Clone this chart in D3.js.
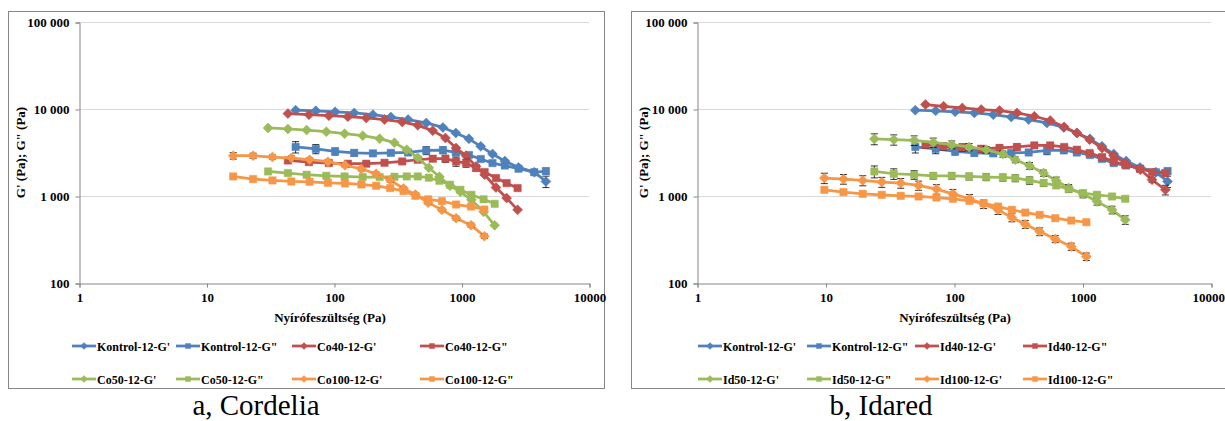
<!DOCTYPE html>
<html>
<head>
<meta charset="utf-8">
<script src="https://cdn.jsdelivr.net/npm/d3@7.9.0/dist/d3.min.js"></script>
<style>
  body { margin: 0; background: #fff; }
  svg text { font-family: "Liberation Serif", "Times New Roman", serif; }
</style>
</head>
<body>
<svg id="chart" width="1225" height="421"></svg>
<script>
// axis ticks (shared by both panels)
const xTicks = [1, 10, 100, 1000, 10000];
const yTicks = [100, 1000, 10000, 100000];

// Kontrol sample, same curve on both panels
const kontrolX  = [50, 72, 102, 144, 202, 279, 381, 529, 715, 902, 1143, 1416, 1750, 2188, 2800, 3724, 4592];
const kontrolG1 = [9700, 9530, 9290, 9020, 8610, 8070, 7550, 6920, 6140, 5300, 4540, 3720, 3040, 2520, 2130, 1880, 1470];
const kontrolG2 = [3670, 3480, 3255, 3130, 3090, 3130, 3165, 3335, 3365, 3165, 2960, 2660, 2390, 2240, 2060, 1875, 1935];
const kontrolG1Err = [250, 250, 200, 200, 200, 200, 150, 150, 150, 120, 100, 100, 80, 80, 80, 100, 220];
const kontrolG2Err = [550, 420, 300, 250, 200, 200, 250, 350, 300, 250, 200, 150, 120, 100, 100, 120, 150];

// a, Cordelia
const co40X  = [43.5, 63.6, 91.2, 128.5, 179, 249, 343, 454, 595, 748, 906, 1086, 1300, 1518, 1864, 2258, 2754];
const co40G1 = [8850, 8610, 8390, 8170, 7890, 7550, 7100, 6490, 5640, 4640, 3560, 2905, 2190, 1755, 1253, 946, 693];
const co40G2 = [2560, 2450, 2390, 2350, 2350, 2410, 2495, 2610, 2685, 2685, 2495, 2390, 2095, 1885, 1607, 1408, 1234];
const co40G2Err = [150, 150, 120, 120, 120, 120, 120, 150, 200, 250, 300, 250, 150, 120, 80, 60, 50];

const co50X  = [30.4, 43.5, 61, 87, 121, 168, 228, 298, 372, 454, 554, 671, 814, 980, 1196, 1490, 1820];
const co50G1 = [6050, 5900, 5720, 5490, 5210, 4940, 4560, 4100, 3410, 2760, 2110, 1665, 1310, 1117, 904, 658, 460];
const co50G2 = [1915, 1835, 1755, 1708, 1678, 1652, 1652, 1665, 1678, 1678, 1622, 1497, 1346, 1178, 1032, 916, 813];

const co100X  = [16.2, 23.2, 32.9, 46.3, 64.4, 89.6, 122, 164, 214, 276, 351, 435, 548, 702, 907, 1188, 1511];
const co100G1 = [2905, 2905, 2805, 2733, 2612, 2478, 2258, 2047, 1802, 1525, 1220, 1040, 839, 693, 556, 462, 345];
const co100G2 = [1678, 1567, 1510, 1469, 1458, 1419, 1393, 1357, 1311, 1234, 1138, 1005, 916, 873, 798, 757, 699];
const co100G1Err = [250, 200, 150, 150, 120, 120, 100, 100, 80, 80, 60, 50, 40, 30, 30, 25, 20];

// b, Idared
const id40X  = [60, 83, 116, 163, 226, 309, 422, 561, 721, 906, 1135, 1419, 1746, 2153, 2818, 3478, 4416];
const id40G1 = [11250, 10750, 10300, 9840, 9590, 9020, 8250, 7360, 6220, 5310, 4440, 3560, 2905, 2393, 2005, 1537, 1178];
const id40G2 = [3890, 3720, 3620, 3497, 3565, 3660, 3815, 3815, 3660, 3405, 3120, 2805, 2495, 2285, 2055, 1885, 1835];
const id40G1Err = [400, 350, 300, 300, 250, 250, 200, 200, 150, 150, 120, 100, 100, 80, 80, 100, 150];
const id40G2Err = [350, 350, 350, 300, 300, 300, 300, 300, 250, 250, 200, 200, 150, 150, 120, 100, 120];

const id50X  = [24, 34, 49, 69, 96, 131, 178, 240, 300, 387, 498, 625, 780, 1009, 1297, 1698, 2153];
const id50G1 = [4530, 4440, 4360, 4130, 3890, 3660, 3410, 3040, 2612, 2228, 1835, 1497, 1234, 1052, 865, 693, 532];
const id50G2 = [1915, 1802, 1755, 1708, 1708, 1678, 1652, 1634, 1607, 1510, 1408, 1322, 1200, 1079, 1032, 987, 929];
const id50G1Err = [650, 600, 550, 500, 400, 350, 300, 250, 200, 200, 150, 150, 120, 100, 80, 70, 60];
const id50G2Err = [300, 250, 200, 150, 150, 150, 150, 150, 150, 150, 120, 100, 100, 80, 70, 60, 50];

const id100X  = [9.8, 13.8, 19.5, 27.4, 38.5, 53, 73, 98, 132, 170, 220, 282, 359, 464, 614, 818, 1072];
const id100G1 = [1607, 1567, 1510, 1447, 1408, 1322, 1200, 1059, 929, 807, 693, 565, 474, 390, 321, 262, 201];
const id100G2 = [1178, 1109, 1059, 1032, 1005, 987, 961, 929, 881, 829, 757, 693, 645, 607, 556, 522, 500];
const id100G1Err = [220, 200, 200, 190, 180, 160, 150, 130, 110, 90, 80, 60, 50, 40, 30, 25, 20];

const colors = { blue: '#4f81bd', red: '#c0504d', green: '#9bbb59', orange: '#f79646' };

const cordeliaSeries = [
    { name: "Kontrol-12-G'",  x: kontrolX, y: kontrolG1, err: kontrolG1Err, color: colors.blue, shape: 'diamond' },
    { name: 'Kontrol-12-G"',  x: kontrolX, y: kontrolG2, err: kontrolG2Err, color: colors.blue, shape: 'square' },
    { name: "Co40-12-G'",     x: co40X, y: co40G1, color: colors.red, shape: 'diamond' },
    { name: 'Co40-12-G"',     x: co40X, y: co40G2, err: co40G2Err, color: colors.red, shape: 'square' },
    { name: "Co50-12-G'",     x: co50X, y: co50G1, color: colors.green, shape: 'diamond' },
    { name: 'Co50-12-G"',     x: co50X, y: co50G2, color: colors.green, shape: 'square' },
    { name: "Co100-12-G'",    x: co100X, y: co100G1, err: co100G1Err, color: colors.orange, shape: 'diamond' },
    { name: 'Co100-12-G"',    x: co100X, y: co100G2, color: colors.orange, shape: 'square' }
];

const idaredSeries = [
    { name: "Kontrol-12-G'",  x: kontrolX, y: kontrolG1, err: kontrolG1Err, color: colors.blue, shape: 'diamond' },
    { name: 'Kontrol-12-G"',  x: kontrolX, y: kontrolG2, err: kontrolG2Err, color: colors.blue, shape: 'square' },
    { name: "Id40-12-G'",     x: id40X, y: id40G1, err: id40G1Err, color: colors.red, shape: 'diamond' },
    { name: 'Id40-12-G"',     x: id40X, y: id40G2, err: id40G2Err, color: colors.red, shape: 'square' },
    { name: "Id50-12-G'",     x: id50X, y: id50G1, err: id50G1Err, color: colors.green, shape: 'diamond' },
    { name: 'Id50-12-G"',     x: id50X, y: id50G2, err: id50G2Err, color: colors.green, shape: 'square' },
    { name: "Id100-12-G'",    x: id100X, y: id100G1, err: id100G1Err, color: colors.orange, shape: 'diamond' },
    { name: 'Id100-12-G"',    x: id100X, y: id100G2, color: colors.orange, shape: 'square' }
];

const svg = d3.select('#chart');
const svgWidth = 1225;

const squarePath = d3.symbol().type(d3.symbolSquare).size(54)();
const diamondPath = d3.symbol().type(d3.symbolSquare).size(50)();

function drawMarker(g, shape, color, cx, cy, scale = 1) {
    g.append('path')
        .attr('d', shape === 'square' ? squarePath : diamondPath)
        .attr('transform', `translate(${cx},${cy}) ${shape === 'diamond' ? 'rotate(45)' : ''} scale(${scale})`)
        .attr('fill', color)
        .attr('stroke', color)
        .attr('stroke-width', 0.5);
}

function drawPanel(cfg) {
    const g = svg.append('g');

    // outer frame of the chart object
    g.append('rect')
        .attr('x', cfg.frame.x + 0.5).attr('y', cfg.frame.y + 0.5)
        .attr('width', cfg.frame.w).attr('height', cfg.frame.h)
        .attr('fill', '#fff').attr('stroke', '#868686').attr('stroke-width', 1);

    const x = d3.scaleLog().domain([1, 10000]).range([cfg.left, cfg.right]);
    const y = d3.scaleLog().domain([100, 100000]).range([cfg.bottom, cfg.top]);

    // gridlines
    g.append('g').selectAll('line')
        .data(yTicks.slice(1))
        .join('line')
        .attr('x1', cfg.left).attr('x2', cfg.right)
        .attr('y1', d => Math.round(y(d)) + 0.5).attr('y2', d => Math.round(y(d)) + 0.5)
        .attr('stroke', '#d9d9d9').attr('stroke-width', 1);

    const yAxis = g.append('g')
        .attr('transform', `translate(${cfg.left + 0.5},0.5)`)
        .call(d3.axisLeft(y).tickValues(yTicks).tickSize(4).tickPadding(6)
            .tickFormat(d => d3.format(',')(d).replace(/,/g, ' ')));

    const xAxis = g.append('g')
        .attr('transform', `translate(0.5,${cfg.bottom + 0.5})`)
        .call(d3.axisBottom(x).tickValues(xTicks).tickSize(4).tickPadding(5)
            .tickFormat(d3.format('d')));

    [xAxis, yAxis].forEach(ax => {
        ax.select('.domain').attr('stroke', '#868686');
        ax.selectAll('.tick line').attr('stroke', '#868686');
        ax.selectAll('.tick text')
            .attr('fill', '#000')
            .style('font-family', '"Liberation Serif", serif')
            .style('font-size', '13px')
            .style('font-weight', 'bold');
    });

    // keep the last x label inside the picture (it sits on the right edge)
    xAxis.selectAll('.tick text').each(function(d) {
        const bb = this.getBBox();
        const right = x(d) + bb.width / 2;
        if (right > svgWidth - 1) d3.select(this).attr('x', svgWidth - 1 - right);
    });

    // axis titles
    g.append('text')
        .attr('x', cfg.xTitleX).attr('y', 322)
        .attr('text-anchor', 'middle')
        .style('font-size', '13px').style('font-weight', 'bold')
        .text('Nyírófeszültség (Pa)');

    g.append('text')
        .attr('transform', `translate(${cfg.yTitleX},${(cfg.top + cfg.bottom) / 2}) rotate(-90)`)
        .attr('text-anchor', 'middle')
        .style('font-size', '13px').style('font-weight', 'bold')
        .text('G\' (Pa); G" (Pa)');

    const line = d3.line().x(d => x(d[0])).y(d => y(d[1]));

    cfg.series.forEach(s => {
        const pts = s.x.map((v, i) => [v, s.y[i], s.err ? s.err[i] : 0]);
        const sg = g.append('g');

        sg.append('path')
            .attr('d', line(pts))
            .attr('fill', 'none')
            .attr('stroke', s.color)
            .attr('stroke-width', 2.75)
            .attr('stroke-linejoin', 'round');

        // error bars
        pts.filter(p => p[2] > 0).forEach(p => {
            const cx = x(p[0]);
            const y0 = y(p[1] - p[2]), y1 = y(p[1] + p[2]);
            sg.append('line').attr('x1', cx).attr('x2', cx).attr('y1', y0).attr('y2', y1)
                .attr('stroke', '#000').attr('stroke-width', 0.8);
            [y0, y1].forEach(yy => sg.append('line')
                .attr('x1', cx - 3.5).attr('x2', cx + 3.5).attr('y1', yy).attr('y2', yy)
                .attr('stroke', '#000').attr('stroke-width', 0.8));
        });

        pts.forEach(p => drawMarker(sg, s.shape, s.color, x(p[0]), y(p[1])));
    });

    // legend, 4 columns x 2 rows
    cfg.series.forEach((s, i) => {
        const lx = cfg.legendX[i % 4];
        const ly = cfg.legendY[Math.floor(i / 4)];
        const lg = g.append('g');
        lg.append('line')
            .attr('x1', lx).attr('x2', lx + 24).attr('y1', ly).attr('y2', ly)
            .attr('stroke', s.color).attr('stroke-width', 2.75);
        drawMarker(lg, s.shape, s.color, lx + 12, ly, 0.7);
        lg.append('text')
            .attr('x', lx + 25).attr('y', ly + 4.5)
            .style('font-size', '12px').style('font-weight', 'bold')
            .text(s.name);
    });

    // caption under the chart
    svg.append('text')
        .attr('x', cfg.captionX).attr('y', 415)
        .attr('text-anchor', 'middle')
        .style('font-size', '29px')
        .text(cfg.caption);
}

drawPanel({
    frame: { x: 8, y: 11, w: 596, h: 377 },
    left: 79, right: 589, top: 22, bottom: 283,
    xTitleX: 330, yTitleX: 25,
    legendX: [72, 176, 292, 420], legendY: [346, 379],
    series: cordeliaSeries,
    caption: 'a, Cordelia', captionX: 256
});

drawPanel({
    frame: { x: 631, y: 11, w: 610, h: 377 },
    left: 697, right: 1211, top: 22, bottom: 283,
    xTitleX: 955, yTitleX: 648,
    legendX: [698, 807, 915, 1023], legendY: [346, 379],
    series: idaredSeries,
    caption: 'b, Idared', captionX: 881
});
</script>
</body>
</html>
